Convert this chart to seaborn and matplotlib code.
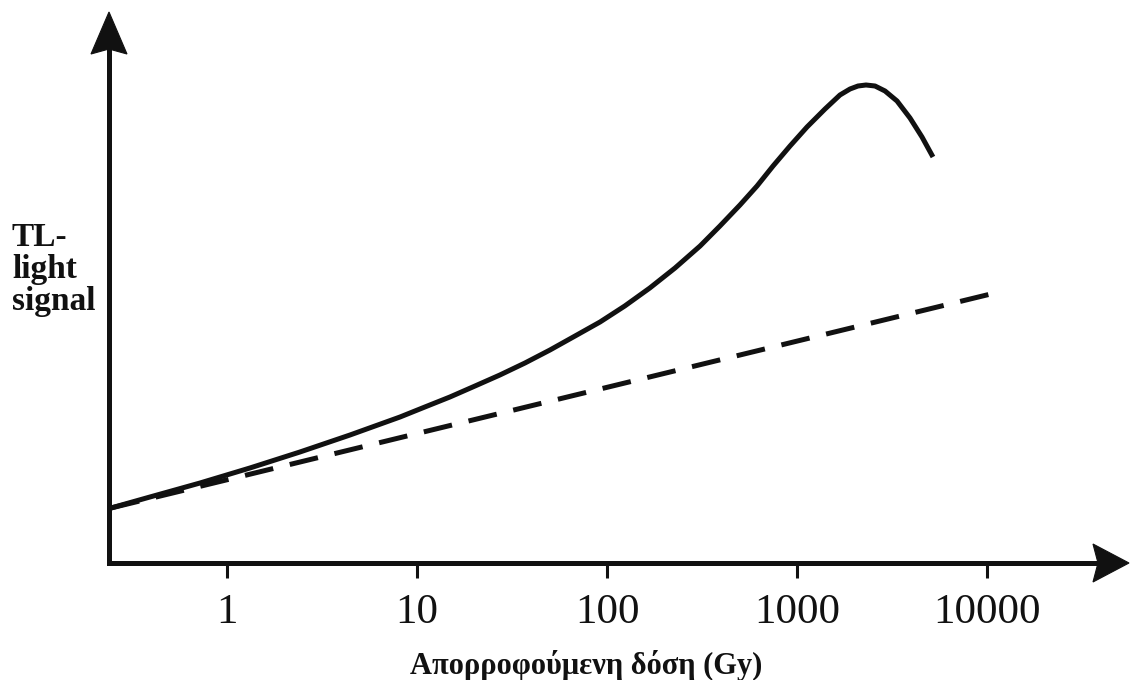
import numpy as np
import pandas as pd
import matplotlib
matplotlib.use("Agg")
import matplotlib.pyplot as plt
from matplotlib.patches import Polygon
from matplotlib.ticker import NullLocator
import seaborn as sns

# Thermoluminescence response versus absorbed dose (arbitrary signal units)
dose_tl = [0.245, 0.393, 0.721, 1.32, 2.42, 4.44, 8.14, 11.0, 14.9, 20.2,
           27.3, 37.0, 50.1, 67.9, 91.9, 124, 168, 228, 309, 393, 501, 616,
           748, 919, 1129, 1404, 1683, 1901, 2094, 2308, 2574, 2906, 3361,
           3933, 4549, 5196]
signal_tl = [55, 66, 80, 95, 111, 128, 146, 156, 166, 177,
             188, 200, 213, 227, 241, 257, 275, 295, 317, 337, 358, 377,
             397, 417, 436, 454, 468, 474, 477, 478, 477, 472, 462,
             445, 426, 406]

# Ideal linear response
dose_linear = [0.245, 11000]
signal_linear = [55, 270]

tick_values = [1, 10, 100, 1000, 10000]
tick_labels = ["1", "10", "100", "1000", "10000"]

x_label = "Απορροφούμενη δόση (Gy)"
y_label = "TL-\nlight\nsignal"

sns.set_theme(style="white")
plt.rcParams["font.family"] = ["Liberation Serif", "DejaVu Serif"]

W, H = 1130, 680
fig = plt.figure(figsize=(W / 100, H / 100), dpi=100)
fig.patch.set_facecolor("white")

# axes frame in pixel terms
ax_left, ax_right, ax_bottom, ax_top = 109, 1110, 563, 30
ax = fig.add_axes([ax_left / W, (H - ax_bottom) / H,
                   (ax_right - ax_left) / W, (ax_bottom - ax_top) / H])
ax.set_facecolor("white")

decade_px, one_px = 190.0, 227.0
ax.set_xscale("log")
ax.set_xlim(10 ** ((ax_left - one_px) / decade_px), 10 ** ((ax_right - one_px) / decade_px))
ax.set_ylim(0, ax_bottom - ax_top)

df_tl = pd.DataFrame({"dose": dose_tl, "signal": signal_tl})
df_lin = pd.DataFrame({"dose": dose_linear, "signal": signal_linear})

sns.lineplot(data=df_tl, x="dose", y="signal", ax=ax, color="#111111",
             linewidth=3.6, errorbar=None, sort=False,
             solid_capstyle="butt", solid_joinstyle="round")
sns.lineplot(data=df_lin, x="dose", y="signal", ax=ax, color="#111111",
             linewidth=3.6, errorbar=None, sort=False,
             linestyle=(0, (5.8, 3.4)), dash_capstyle="butt")

for side in ["top", "right"]:
    ax.spines[side].set_visible(False)
for side in ["left", "bottom"]:
    ax.spines[side].set_linewidth(3.6)
    ax.spines[side].set_color("#111111")

ax.set_yticks([])
ax.set_xticks(tick_values)
ax.set_xticklabels(tick_labels)
ax.xaxis.set_minor_locator(NullLocator())
ax.tick_params(axis="x", direction="out", length=11, width=2.2, color="#111111",
               pad=11, labelsize=31, labelcolor="#111111", bottom=True)
ax.set_ylabel("")

ax.set_xlabel(x_label, fontsize=22, fontweight="bold", color="#111111")
ax.xaxis.label.set_va("baseline")
ax.xaxis.set_label_coords((586 - ax_left) / (ax_right - ax_left),
                          -(674 - ax_bottom) / (ax_bottom - ax_top))

fig.text(12 / W, 1 - 222 / H, y_label, ha="left", va="top", fontsize=24,
         fontweight="bold", color="#111111", linespacing=1.05)


def px(x, y):
    return (x / W, 1 - y / H)


# arrow heads at the ends of both axes
y_head = [px(109, 12), px(127, 54), px(109, 49), px(91, 54)]
x_head = [px(1129, 563), px(1093, 582), px(1098, 563), px(1093, 544)]
for pts in (y_head, x_head):
    fig.patches.append(Polygon(pts, closed=True, facecolor="#111111",
                               edgecolor="#111111", linewidth=0.8,
                               transform=fig.transFigure, figure=fig))

fig.savefig("out.png", dpi=100, facecolor="white")
